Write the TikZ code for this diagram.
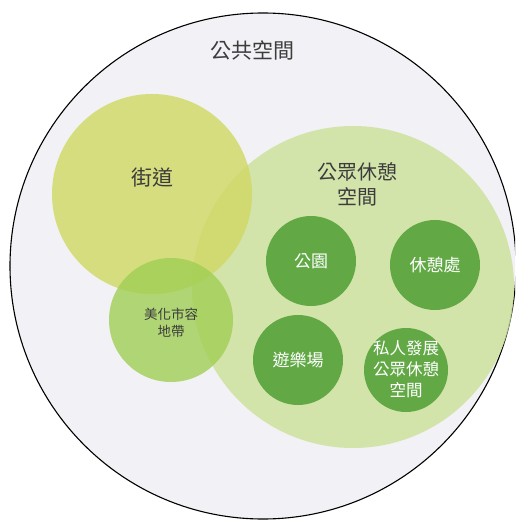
\documentclass[tikz,border=0pt]{standalone}
\usepackage{fontspec}
\setmainfont{Noto Sans CJK TC}
\definecolor{bgin}{HTML}{F2F1F5}
\definecolor{street}{HTML}{D0D964}
\definecolor{rest}{HTML}{CDE29E}
\definecolor{beauty}{HTML}{A0CE54}
\definecolor{dark}{HTML}{62A946}
\definecolor{txt}{HTML}{3C3C3C}
\tikzset{
  lbl/.style={text=txt, align=center, inner sep=0pt},
  wlbl/.style={text=white, align=center, inner sep=0pt},
  darkc/.style={circle, fill=dark, inner sep=0pt},
}
\begin{document}
\begin{tikzpicture}[x=1pt,y=-1pt]
\useasboundingbox (0,0) rectangle (515,521);
\begin{scope}
\clip (0,0) rectangle (515,521);
\node[circle, draw=black, line width=1.1pt, fill=bgin, minimum size=506pt, inner sep=0pt] (pub) at (263,266) {};
\end{scope}
\node[circle, fill=rest, fill opacity=0.85, minimum size=322pt, inner sep=0pt] (rest) at (353,287) {};
\node[circle, fill=street, fill opacity=0.82, minimum size=200pt, inner sep=0pt] (street) at (152,194) {};
\node[circle, fill=beauty, fill opacity=0.8, minimum size=124pt, inner sep=0pt] (beauty) at (171,320) {};
\node[darkc, minimum size=90pt] (park) at (311,261) {};
\node[darkc, minimum size=90pt] (rpt) at (435,265) {};
\node[darkc, minimum size=90pt] (play) at (298,360) {};
\node[darkc, minimum size=84pt] (priv) at (406,370) {};
\node[lbl, font=\fontsize{21}{25}\selectfont] (tpub) at (252,50) {公共空間};
\node[lbl, font=\fontsize{21}{25}\selectfont] (tstreet) at (152,178) {街道};
\node[lbl, font=\fontsize{20}{25}\selectfont] (trest) at (357,184) {公眾休憩\\空間};
\node[lbl, font=\fontsize{13.5}{17}\selectfont] (tbeauty) at (171,323) {美化市容\\地帶};
\node[wlbl, font=\fontsize{17}{21}\selectfont] at (park) {公園};
\node[wlbl, font=\fontsize{17}{21}\selectfont] at (rpt) {休憩處};
\node[wlbl, font=\fontsize{17}{21}\selectfont] at (play) {遊樂場};
\node[wlbl, font=\fontsize{16.5}{21}\selectfont] at (406,369) {私人發展\\公眾休憩\\空間};
\end{tikzpicture}
\end{document}
